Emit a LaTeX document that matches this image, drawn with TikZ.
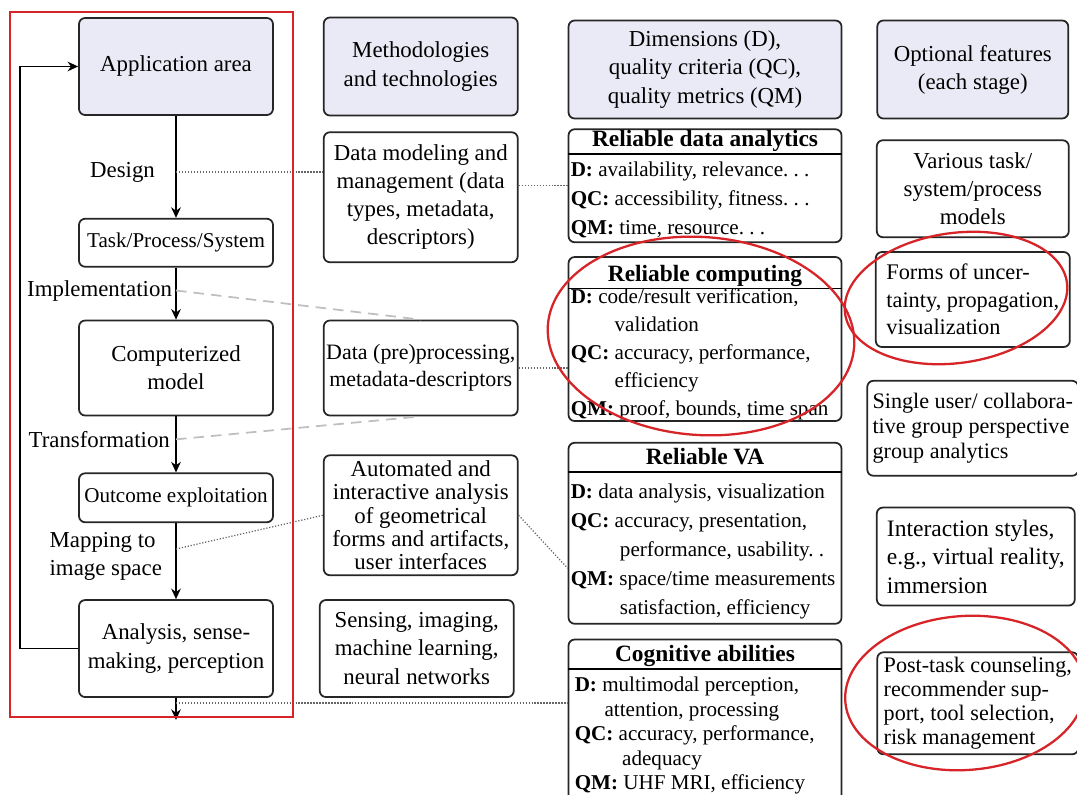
\documentclass[tikz,border=0pt]{standalone}
\usepackage{fontspec}
\setmainfont{Liberation Serif}
\usetikzlibrary{arrows.meta, positioning}
\definecolor{headfill}{RGB}{234,234,246}
\definecolor{markred}{RGB}{214,36,40}

\begin{document}
\begin{tikzpicture}[
    node distance=0.3cm and 0.98cm,
    font=\fontsize{13}{16}\selectfont,
    box/.style={draw=black!85, line width=1pt, rounded corners=3.5pt, fill=white, align=center, inner xsep=1pt, inner ysep=1pt},
    headbox/.style={box, fill=headfill},
    colbox/.style={box, minimum width=3.88cm},
    dimbox/.style={box, minimum width=5.46cm},
    dimtitle/.style={font=\fontsize{13.3}{15}\selectfont\bfseries, text height=9pt, text depth=3pt, inner ysep=1pt},
    dimbody/.style={align=left, inner sep=1pt, font=\fontsize{12}{16.5}\selectfont},
    optbox/.style={box, align=left, inner xsep=3pt},
    lbl/.style={inner sep=1pt},
    flow/.style={-{Stealth[length=6pt, width=5.5pt]}, line width=0.9pt},
    dotlink/.style={densely dotted, draw=black!60, line width=0.7pt},
    dashlink/.style={dash pattern=on 6pt off 4pt, draw=black!25, line width=1pt},
    redmark/.style={draw=markred, line width=1.3pt}
]
\useasboundingbox (0,0) rectangle (21.54,-15.88);
\clip (0,0) rectangle (21.54,-15.88);

\node[headbox, minimum width=3.88cm, minimum height=1.94cm] (app) at (3.52,-1.33) {Application area};
\node[colbox, minimum height=0.96cm, below=2.04cm of app, font=\fontsize{12}{14}\selectfont] (task) {Task/Process/System};
\node[colbox, minimum height=1.9cm, below=1.04cm of task] (comp) {Computerized\\model};
\node[colbox, minimum height=0.98cm, below=1.12cm of comp, font=\fontsize{12}{14}\selectfont] (outcome) {Outcome exploitation};
\node[colbox, minimum height=1.94cm, below=1.52cm of outcome] (analysis) {Analysis, sense-\\making, perception};
\coordinate[below=0.44cm of analysis] (exit);

\node[headbox, minimum width=3.88cm, minimum height=1.96cm, right=0.98cm of app] (meth) {Methodologies\\and technologies};
\node[colbox, minimum height=2.6cm, below=0.3cm of meth] (datamod) {Data modeling and\\management (data\\types, metadata,\\descriptors)};
\node[colbox, minimum height=1.9cm, right=0.98cm of comp, font=\fontsize{12.5}{15.5}\selectfont] (dataproc) {Data (pre)processing,\\metadata-descriptors};
\node[colbox, minimum height=2.4cm, below=0.76cm of dataproc, font=\fontsize{13}{13.2}\selectfont] (autom) {Automated and\\interactive analysis\\of geometrical\\forms and artifacts,\\user interfaces};
\node[colbox, minimum height=1.94cm, right=0.9cm of analysis] (sensing) {Sensing, imaging,\\machine learning,\\neural networks};

\node[headbox, minimum width=5.46cm, minimum height=1.96cm, right=0.98cm of meth, yshift=-0.06cm] (dimhead) {Dimensions (D),\\quality criteria (QC),\\quality metrics (QM)};
\node[dimbox, minimum height=2.26cm, below=0.18cm of dimhead] (rda) {};
\node[dimbox, minimum height=3.28cm, below=0.26cm of rda] (rc) {};
\node[dimbox, minimum height=3.62cm, below=0.4cm of rc] (rva) {};
\node[dimbox, minimum height=3.5cm, below=0.28cm of rva] (cog) {};

\node[dimtitle, below=0cm of rda.north] (rdatitle) {Reliable data analytics};
\draw[line width=1pt] (rda.west |- rdatitle.south) -- (rda.east |- rdatitle.south);
\node[dimbody, below right=0.63cm and 0.02cm of rda.north west] (rdabody) {\textbf{D:} availability, relevance.\ .\ .\\\textbf{QC:} accessibility, fitness.\ .\ .\\\textbf{QM:} time, resource.\ .\ .};

\node[dimtitle, below=0.14cm of rc.north] (rctitle) {Reliable computing};
\draw[line width=1pt] (rc.west |- rctitle.south) -- (rc.east |- rctitle.south);
\node[dimbody, below right=0.61cm and 0.02cm of rc.north west, font=\fontsize{12}{15.9}\selectfont] (rcbody) {\textbf{D:} code/result verification,\\\hspace*{25pt}validation\\\textbf{QC:} accuracy, performance,\\\hspace*{25pt}efficiency\\\textbf{QM:} proof, bounds, time span};

\node[dimtitle, below=0.1cm of rva.north] (rvatitle) {Reliable VA};
\draw[line width=1pt] (rva.west |- rvatitle.south) -- (rva.east |- rvatitle.south);
\node[dimbody, below right=0.79cm and 0.02cm of rva.north west, font=\fontsize{12}{16.6}\selectfont] (rvabody) {\textbf{D:} data analysis, visualization\\\textbf{QC:} accuracy, presentation,\\\hspace*{28pt}performance, usability.\ .\\\textbf{QM:} space/time measurements\\\hspace*{28pt}satisfaction, efficiency};

\node[dimtitle, below=0.1cm of cog.north] (cogtitle) {Cognitive abilities};
\draw[line width=1pt] (cog.west |- cogtitle.south) -- (cog.east |- cogtitle.south);
\node[dimbody, below right=0.72cm and 0.1cm of cog.north west, font=\fontsize{12}{14}\selectfont] (cogbody) {\textbf{D:} multimodal perception,\\\hspace*{17pt}attention, processing\\\textbf{QC:} accuracy, performance,\\\hspace*{27pt}adequacy\\\textbf{QM:} UHF MRI, efficiency};

\node[headbox, minimum width=3.82cm, minimum height=1.96cm, right=0.68cm of dimhead] (opthead) {Optional features\\(each stage)};
\node[box, minimum width=3.84cm, minimum height=1.94cm, below=0.4cm of opthead] (various) {Various task/\\system/process\\models};
\node[optbox, minimum width=3.88cm, minimum height=1.9cm, below=0.26cm of various, font=\fontsize{12.7}{15.6}\selectfont] (forms) {Forms of uncer-\\tainty, propagation,\\visualization};
\node[optbox, minimum width=4.16cm, minimum height=1.9cm, below=0.64cm of forms, font=\fontsize{12.6}{14.2}\selectfont] (single) {Single user/ collabora-\\tive group perspective\\group analytics};
\node[optbox, minimum width=3.96cm, minimum height=1.96cm, below=0.6cm of single, xshift=0.06cm, font=\fontsize{13.4}{16.2}\selectfont] (interact) {Interaction styles,\\e.g., virtual reality,\\immersion};
\node[optbox, minimum width=4.02cm, minimum height=2.04cm, below=0.9cm of interact, xshift=0.04cm, font=\fontsize{12.6}{13.7}\selectfont] (post) {Post-task counseling,\\recommender sup-\\port, tool selection,\\risk management};

\draw[flow] (app) -- coordinate[pos=0.55] (design) (task);
\draw[flow] (task) -- coordinate[pos=0.44] (impl) (comp);
\draw[flow] (comp) -- coordinate[pos=0.41] (transf) (outcome);
\draw[flow] (outcome) -- coordinate[pos=0.34] (mapping) (analysis);
\draw[flow] (analysis) -- coordinate[pos=0.23] (out) (exit);
\draw[flow] (analysis.west) -- ++(-1.16,0) |- (app.west);

\node[lbl, left=0.38cm of design] (designlbl) {Design};
\node[lbl, left=0.04cm of impl] (impllbl) {Implementation};
\node[lbl, left=0.08cm of transf] (transflbl) {Transformation};
\node[lbl, align=left, left=0.24cm of mapping, yshift=-0.15cm] (maplbl) {Mapping to\\image space};

\draw[dotlink] (design) -- (design -| datamod.west);
\draw[dotlink] (datamod.east |- rda.west) -- (rda.west);
\draw[dashlink] (impl) -- (dataproc.north);
\draw[dashlink] (transf) -- (dataproc.south);
\draw[dotlink] (dataproc.east) -- (dataproc.east -| rc.west);
\draw[dotlink] (mapping) -- (autom.west);
\draw[dotlink] (autom.east) -- ([yshift=-0.7cm]rva.west);
\draw[dotlink] (out) -- (out -| cog.west);

\draw[redmark] (0.2,-0.24) rectangle (5.86,-14.34);
\draw[redmark, rotate around={-4:(14.02,-6.72)}] (14.02,-6.72) ellipse [x radius=3.07, y radius=1.98];
\draw[redmark, rotate around={8:(19.12,-5.96)}] (19.12,-5.96) ellipse [x radius=2.24, y radius=1.3];
\draw[redmark, rotate around={4:(19.3,-13.86)}] (19.3,-13.86) ellipse [x radius=2.4, y radius=1.54];
\end{tikzpicture}
\end{document}
